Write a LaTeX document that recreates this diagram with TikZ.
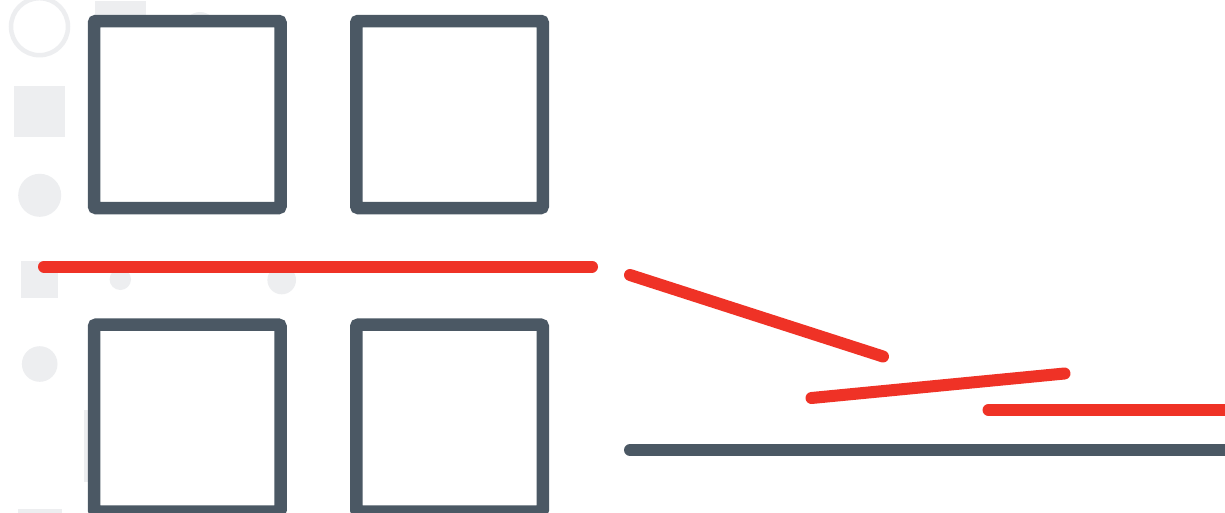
\documentclass[tikz,border=0pt]{standalone}
\definecolor{slate}{HTML}{4B5864}
\definecolor{alert}{HTML}{EF3226}
\definecolor{faint}{HTML}{EDEEF0}
\tikzset{
  panel/.style={draw=slate, fill=white, line width=12.5pt, rectangle, inner sep=0pt,
    minimum width=186.5pt, minimum height=187pt, rounded corners=2pt},
  redline/.style={draw=alert, line width=12pt, line cap=round},
  grayline/.style={draw=slate, line width=12pt, line cap=round},
  bgshape/.style={fill=faint, draw=none}
}
\begin{document}
\begin{tikzpicture}[x=1pt, y=-1pt]
\clip (0,0) rectangle (1225,512);
\fill[white] (0,0) rectangle (1225,512);
% faint background shapes
\draw[faint, line width=4.5pt] (39.5,26.7) circle[radius=28.5];
\fill[faint] (95,1) rectangle (146,52);
\fill[faint] (200,28) circle[radius=16];
\fill[faint] (14,86) rectangle (65,136.7);
\fill[faint] (39.7,195.3) circle[radius=21.5];
\fill[faint] (21,261) rectangle (58,297.7);
\fill[faint] (120.3,279.3) circle[radius=10.7];
\fill[faint] (281.7,280) circle[radius=14.3];
\fill[faint] (39.7,364) circle[radius=17.8];
\fill[faint] (84,410) rectangle (120,482);
\fill[faint] (18,509) rectangle (62,560);
% panels
\node[panel] (p1) at (187.25,114.5) {};
\node[panel] (p2) at (449.5,114.5) {};
\node[panel] (p3) at (187.25,418.2) {};
\node[panel] (p4) at (449.5,418.2) {};
% line endpoints
\coordinate (a1) at (44,266.5);
\coordinate (a2) at (592,266.5);
\coordinate (b1) at (630,275);
\coordinate (b2) at (883,356.5);
\coordinate (c1) at (811.5,398);
\coordinate (c2) at (1064.5,373.5);
\coordinate (d1) at (988.5,410);
\coordinate (d2) at (1240,410);
\coordinate (g1) at (630,450);
\coordinate (g2) at (1240,450);
\draw[redline] (a1) -- (a2);
\draw[redline] (b1) -- (b2);
\draw[redline] (c1) -- (c2);
\draw[redline] (d1) -- (d2);
\draw[grayline] (g1) -- (g2);
\end{tikzpicture}
\end{document}
